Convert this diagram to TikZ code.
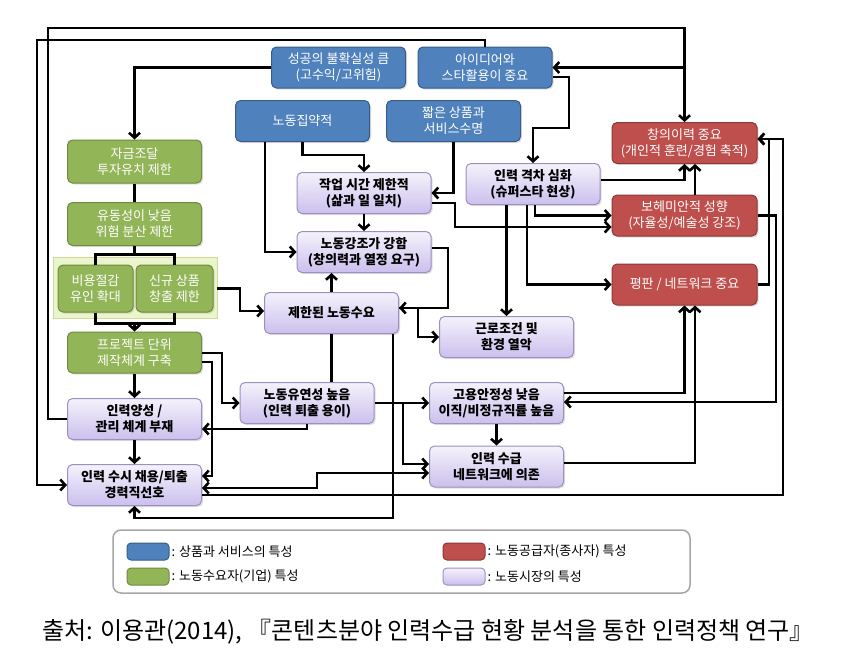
\documentclass[tikz,border=0pt]{standalone}
\usepackage{fontspec}
\setmainfont{Noto Sans CJK KR}
\usepackage{tikz}
\usetikzlibrary{arrows.meta}
\usetikzlibrary{shadows}
\definecolor{mblue}{rgb}{0.31, 0.51, 0.74}
\definecolor{mbluedk}{rgb}{0.22, 0.36, 0.54}
\definecolor{mgreen}{rgb}{0.57, 0.71, 0.34}
\definecolor{mgreendk}{rgb}{0.44, 0.54, 0.25}
\definecolor{mred}{rgb}{0.75, 0.31, 0.30}
\definecolor{mreddk}{rgb}{0.55, 0.22, 0.21}
\definecolor{mviolet}{rgb}{0.80, 0.75, 0.93}
\definecolor{mvioletdk}{rgb}{0.62, 0.56, 0.76}
\definecolor{mlime}{rgb}{0.92, 0.96, 0.80}
\definecolor{mlimedk}{rgb}{0.80, 0.86, 0.62}
\tikzset{box/.style = {rectangle, rounded corners = 5, align = center, minimum width = 134, minimum height = 41, inner sep = 1, line width = 1, font = \fontsize{13}{16}\selectfont, drop shadow = {opacity = 0.25, shadow xshift = 1.5pt, shadow yshift = -1.5pt}}}
\tikzset{blu/.style = {fill = mblue, draw = mbluedk}}
\tikzset{grn/.style = {fill = mgreen, draw = mgreendk}}
\tikzset{rd/.style = {fill = mred, draw = mreddk}}
\tikzset{vio/.style = {top color = white!80!mviolet, bottom color = mviolet, draw = mvioletdk}}
\tikzset{bbox/.style = {box, blu, text = white}}
\tikzset{gbox/.style = {box, grn, text = white}}
\tikzset{rbox/.style = {box, rd, text = white, minimum width = 145}}
\tikzset{pbox/.style = {box, vio, font = \fontsize{13}{16}\selectfont\bfseries}}
\tikzset{sw/.style = {rectangle, rounded corners = 4, minimum width = 42, minimum height = 17, line width = 1}}
\tikzset{lgd/.style = {anchor = west, inner sep = 2, font = \fontsize{13}{15}\selectfont}}
\tikzset{wire/.style = {line width = 2.6}}
\tikzset{arr/.style = {line width = 2.6, ->}}

\begin{document}
\begin{tikzpicture}[x = 1pt, y = -1pt, > = {Straight Barb[length = 5pt, width = 11pt]}]
       \fill [white] (0, 0) rectangle (853, 664);
       \useasboundingbox (0, 0) rectangle (853, 664);

       \node [bbox] (suc) at (338.5, 67.5) {성공의 불확실성 큼\\(고수익/고위험)};
       \node [bbox] (idea) at (485, 67.5) {아이디어와\\스타활용이 중요};
       \node [bbox] (labint) at (302.5, 121) {노동집약적};
       \node [bbox] (short) at (453.5, 121) {짧은 상품과\\서비스수명};

       \node [gbox, minimum height = 43] (fund) at (134.5, 161.5) {자금조달\\투자유치 제한};
       \node [gbox, minimum height = 43] (liq) at (134.5, 224) {유동성이 낮음\\위험 분산 제한};
       \node [rectangle, fill = mlime, draw = mlimedk, minimum width = 164, minimum height = 61] (grp) at (135, 287.5) {};
       \node [gbox, minimum width = 75, minimum height = 47] (cost) at (95.5, 288.5) {비용절감\\유인 확대};
       \node [gbox, minimum width = 77, minimum height = 47] (newp) at (174.5, 288.5) {신규 상품\\창출 제한};
       \node [gbox] (proj) at (134.5, 352.5) {프로젝트 단위\\제작체계 구축};

       \node [pbox] (train) at (134.5, 419) {인력양성 /\\관리 체계 부재};
       \node [pbox] (hire) at (134.5, 485) {인력 수시 채용/퇴출\\경력직선호};
       \node [pbox] (worktime) at (364, 193) {작업 시간 제한적\\(삶과 일 일치)};
       \node [pbox] (labstr) at (364, 252) {노동강조가 강함\\(창의력과 열정 요구)};
       \node [pbox] (lim) at (331.5, 313) {제한된 노동수요};
       \node [pbox] (cond) at (506.5, 337) {근로조건 및\\환경 열악};
       \node [pbox] (flex) at (307, 403) {노동유연성 높음\\(인력 퇴출 용이)};
       \node [pbox] (insec) at (496.5, 403) {고용안정성 낮음\\이직/비정규직률 높음};
       \node [pbox] (netw) at (496.5, 466.5) {인력 수급\\네트워크에 의존};
       \node [pbox] (gap) at (533, 184) {인력 격차 심화\\(슈퍼스타 현상)};

       \node [rbox] (creat) at (684.5, 143) {창의이력 중요\\(개인적 훈련/경험 축적)};
       \node [rbox] (boh) at (684.5, 215.5) {보헤미안적 성향\\(자율성/예술성 강조)};
       \node [rbox] (rep) at (684.5, 284.5) {평판 / 네트워크 중요};

       \draw [arr] (suc.west) -| (fund.north);
       \draw [arr] (idea.north) |- (37, 40) |- (hire.west);
       \draw [arr] (train.west) -| (48, 28) -| (creat.north);
       \draw [arr] (creat.north |- idea.east) -- (idea.east);
       \draw [arr] (idea.east |- 0, 77) -| (569, 128) -| (gap.north);

       \draw [arr] (labint.south -| 265, 0) |- (labstr.west);
       \draw [arr] (labint.south) |- (worktime.north |- 0, 155) -- (worktime.north);
       \draw [arr] (short.south) |- (worktime.east);
       \draw [arr] (worktime.south) -- (labstr.north);
       \draw [arr] (worktime.east |- 0, 203) -| (455, 227) -- (boh.west |- 0, 227);
       \draw [arr] (gap.south -| 535, 0) |- (boh.west);
       \draw [arr] (gap.south -| 527, 0) |- (rep.west);
       \draw [arr] (gap.south -| cond.north) -- (cond.north);
       \draw [arr] (gap.east |- 0, 180) -| (creat.south);
       \draw [arr] ([xshift = 10.5pt]boh.north) -- ([xshift = 10.5pt]creat.south);

       \draw [arr] (labstr.east |- 0, 248) -| (448, 308) -- (lim.east |- 0, 308);
       \draw [arr] (lim.north) -- (lim.north |- labstr.south);
       \draw [arr] (lim.east |- 0, 308) -| (418, 337) -- (cond.west);
       \draw [arr] (grp.east |- newp.east) -| (240, 311) -- (lim.west |- 0, 311);

       \draw [wire] (fund.south) -- (liq.north);
       \draw [wire] (liq.south) -- ++(0, 10);
       \draw [wire] (cost.north) -- ++(0, -10) -| (newp.north);
       \draw [wire] (cost.south) -- ++(0, 11) -| (newp.south);
       \draw [arr] (proj.north |- 0, 323) -- (proj.north);
       \draw [arr] (proj.south) -- (train.north);
       \draw [arr] (train.south) -- (hire.north);
       \draw [arr] (proj.east |- 0, 353) -| (222, 403) -- (flex.west);
       \draw [arr] (proj.east |- 0, 362) -| (212, 476) -- (hire.east |- 0, 476);

       \draw [arr] (flex.south) |- (train.east |- 0, 429);
       \draw [arr] (flex.east) -- (insec.west);
       \draw [arr] (flex.east -| 403, 0) |- (netw.west |- 0, 464);
       \draw [wire, <->] (netw.west |- 0, 473) -| (317, 488) -- (hire.east |- 0, 488);
       \draw [arr] (lim.south -| 393, 0) |- (hire.south |- 0, 518) -- (hire.south);
       \draw [wire] (lim.south) -- (lim.south |- flex.north);
       \draw [arr] (insec.south) -- (netw.north);

       \draw [arr] (insec.east |- 0, 393) -| (rep.south);
       \draw [arr] (netw.east |- 0, 463) -| ([xshift = 10.5pt]rep.south);
       \draw [arr] (boh.east) -| (776, 402) -- (insec.east |- 0, 402);
       \draw [arr] (rep.east) -| (769, 139) -- (creat.east |- 0, 139);
       \draw [arr] (hire.east |- 0, 495) -| (783, 139) -- (creat.east |- 0, 139);

       \draw [rounded corners = 8, draw = black!35, line width = 1.5] (113, 530) rectangle (690, 593);
       \node [sw, blu] (kb) at (148, 551.5) {};
       \node [lgd] (kbt) at (kb.east) {: 상품과 서비스의 특성};
       \node [sw, grn] (kg) at (148, 576.5) {};
       \node [lgd] (kgt) at (kg.east) {: 노동수요자(기업) 특성};
       \node [sw, rd] (kr) at (464, 551.5) {};
       \node [lgd] (krt) at (kr.east) {: 노동공급자(종사자) 특성};
       \node [sw, vio] (kv) at (464, 576.5) {};
       \node [lgd] (kvt) at (kv.east) {: 노동시장의 특성};

       \node [font = \fontsize{24}{28}\selectfont] (src) at (428, 632) {출처: 이용관(2014), 『콘텐츠분야 인력수급 현황 분석을 통한 인력정책 연구』};
\end{tikzpicture}
\end{document}
